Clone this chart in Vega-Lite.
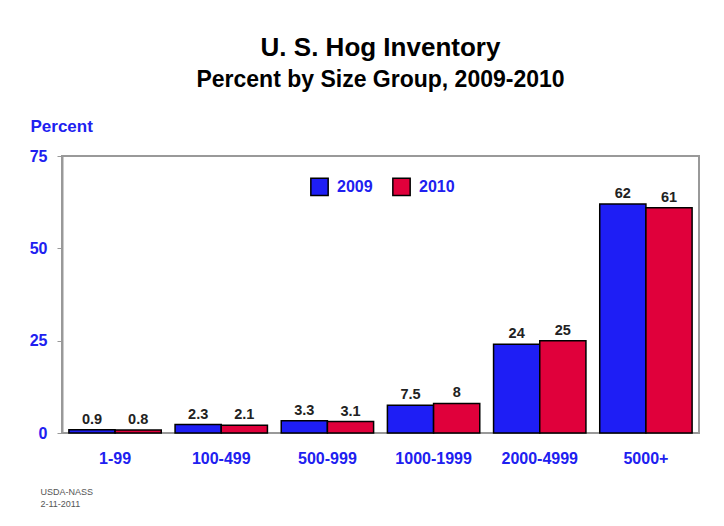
{
  "$schema": "https://vega.github.io/schema/vega-lite/v6.json",
  "autosize": {"type": "none"},
  "padding": {"left": 62, "top": 156, "right": 25, "bottom": 93},
  "width": 637,
  "height": 277,
  "background": "white",
  "title": {
    "text": "U. S. Hog Inventory",
    "subtitle": "Percent by Size Group, 2009-2010",
    "anchor": "middle",
    "frame": "group",
    "font": "Liberation Sans",
    "fontSize": 26,
    "fontWeight": "bold",
    "color": "black",
    "subtitleFont": "Liberation Sans",
    "subtitleFontSize": 23,
    "subtitleFontWeight": "bold",
    "subtitleColor": "black",
    "subtitlePadding": 8,
    "offset": 25
  },
  "data": {
    "values": [
      {"group": "1-99", "year": "2009", "value": 0.9},
      {"group": "1-99", "year": "2010", "value": 0.8},
      {"group": "100-499", "year": "2009", "value": 2.3},
      {"group": "100-499", "year": "2010", "value": 2.1},
      {"group": "500-999", "year": "2009", "value": 3.3},
      {"group": "500-999", "year": "2010", "value": 3.1},
      {"group": "1000-1999", "year": "2009", "value": 7.5},
      {"group": "1000-1999", "year": "2010", "value": 8},
      {"group": "2000-4999", "year": "2009", "value": 24},
      {"group": "2000-4999", "year": "2010", "value": 25},
      {"group": "5000+", "year": "2009", "value": 62},
      {"group": "5000+", "year": "2010", "value": 61}
    ]
  },
  "encoding": {
    "x": {
      "field": "group",
      "type": "nominal",
      "sort": ["1-99", "100-499", "500-999", "1000-1999", "2000-4999", "5000+"],
      "scale": {"paddingInner": 0.13, "paddingOuter": 0.065},
      "axis": {
        "title": ["USDA-NASS", "2-11-2011"],
        "titleFont": "Liberation Sans",
        "titleFontSize": 9,
        "titleFontWeight": "normal",
        "titleColor": "#555555",
        "titleLineHeight": 12,
        "titleAlign": "left",
        "titleAnchor": "start",
        "titleBaseline": "top",
        "titleX": -22,
        "titleY": 54,
        "labelAngle": 0,
        "labelFont": "Liberation Sans",
        "labelFontSize": 16,
        "labelFontWeight": "bold",
        "labelColor": "#2020f0",
        "labelPadding": 17,
        "ticks": false,
        "domain": false,
        "grid": false
      }
    },
    "xOffset": {"field": "year", "type": "nominal", "sort": ["2009", "2010"]},
    "y": {
      "field": "value",
      "type": "quantitative",
      "scale": {"domain": [0, 75], "nice": false},
      "axis": {
        "values": [0, 25, 50, 75],
        "grid": false,
        "title": "Percent",
        "titleAngle": 0,
        "titleAlign": "left",
        "titleAnchor": "start",
        "titleBaseline": "alphabetic",
        "titleX": -32,
        "titleY": -25,
        "titleFont": "Liberation Sans",
        "titleFontSize": 17,
        "titleFontWeight": "bold",
        "titleColor": "#2020f0",
        "labelFont": "Liberation Sans",
        "labelFontSize": 16,
        "labelFontWeight": "bold",
        "labelColor": "#2020f0",
        "labelPadding": 10,
        "tickSize": 5,
        "tickColor": "#999999",
        "domainColor": "#999999",
        "domainWidth": 2
      }
    }
  },
  "layer": [
    {
      "mark": {"type": "bar", "stroke": "black", "strokeWidth": 1.5},
      "encoding": {
        "color": {
          "field": "year",
          "type": "nominal",
          "scale": {"domain": ["2009", "2010"], "range": ["#1e1ef5", "#e0003b"]},
          "legend": {
            "orient": "none",
            "legendX": 248,
            "legendY": 21,
            "direction": "horizontal",
            "title": null,
            "symbolType": "square",
            "symbolSize": 300,
            "symbolStrokeColor": "black",
            "symbolStrokeWidth": 1.5,
            "labelFont": "Liberation Sans",
            "labelFontSize": 16,
            "labelFontWeight": "bold",
            "labelColor": "#2020f0",
            "labelOffset": 8,
            "columnPadding": 16
          }
        }
      }
    },
    {
      "mark": {
        "type": "text",
        "baseline": "alphabetic",
        "dy": -6,
        "font": "Liberation Sans",
        "fontSize": 14.5,
        "fontWeight": "bold",
        "color": "#222222"
      },
      "encoding": {"text": {"field": "value", "type": "nominal"}}
    }
  ],
  "config": {"view": {"stroke": "#999999", "strokeWidth": 2}}
}
